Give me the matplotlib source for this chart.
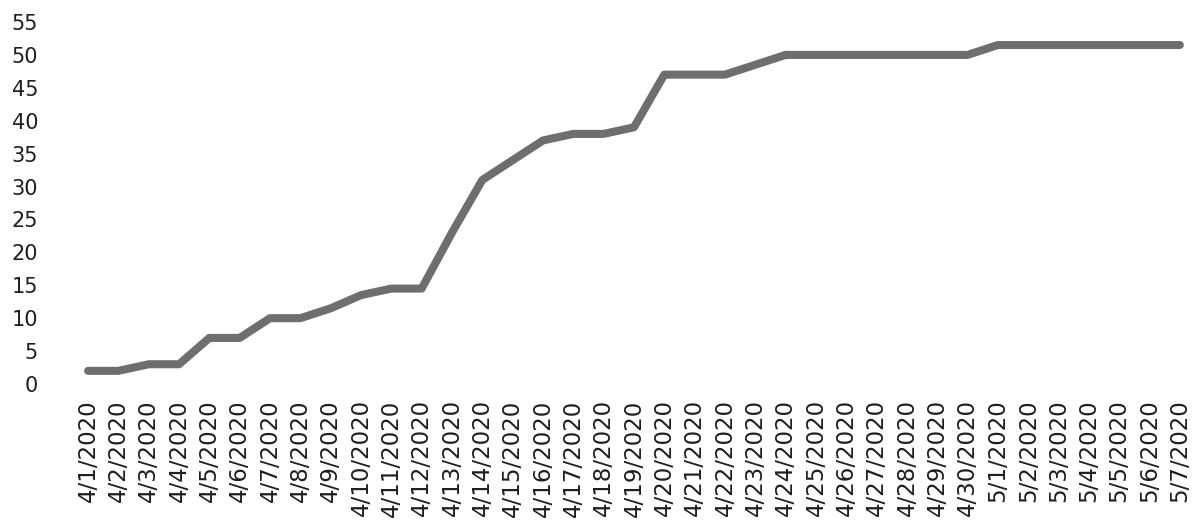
import matplotlib
matplotlib.use("Agg")
import matplotlib.pyplot as plt

dates = ["4/1/2020", "4/2/2020", "4/3/2020", "4/4/2020", "4/5/2020", "4/6/2020",
         "4/7/2020", "4/8/2020", "4/9/2020", "4/10/2020", "4/11/2020", "4/12/2020",
         "4/13/2020", "4/14/2020", "4/15/2020", "4/16/2020", "4/17/2020", "4/18/2020",
         "4/19/2020", "4/20/2020", "4/21/2020", "4/22/2020", "4/23/2020", "4/24/2020",
         "4/25/2020", "4/26/2020", "4/27/2020", "4/28/2020", "4/29/2020", "4/30/2020",
         "5/1/2020", "5/2/2020", "5/3/2020", "5/4/2020", "5/5/2020", "5/6/2020",
         "5/7/2020"]
values = [2, 2, 3, 3, 7, 7,
          10, 10, 11.5, 13.5, 14.5, 14.5,
          23, 31, 34, 37, 38, 38,
          39, 47, 47, 47, 48.5, 50,
          50, 50, 50, 50, 50, 50,
          51.5, 51.5, 51.5, 51.5, 51.5, 51.5,
          51.5]
yticks = list(range(0, 56, 5))

plt.rcParams['font.family'] = ['DejaVu Sans']
fig = plt.figure(figsize=(11.99, 5.20), dpi=100)
ax = fig.add_axes([45 / 1199, 136 / 520, 1150 / 1199, 362 / 520])

x = list(range(len(dates)))
ax.plot(x, values, color='#6e6e6e', lw=5.8, solid_capstyle='round', solid_joinstyle='round')

ax.set_ylim(0, 55)
ax.set_xlim(-1.42, 36.5)
ax.set_yticks(yticks)
ax.set_yticklabels([str(t) for t in yticks], fontsize=15, color='#1e1e1e')
ax.set_xticks(x)
ax.set_xticklabels(dates, rotation=90, fontsize=16.5, color='#1e1e1e', va='top', ha='center')
ax.tick_params(axis='both', length=0)
ax.tick_params(axis='y', pad=5)
ax.tick_params(axis='x', pad=11)
for s in ax.spines.values():
    s.set_visible(False)

fig.savefig("out.png", dpi=100, facecolor='white')
